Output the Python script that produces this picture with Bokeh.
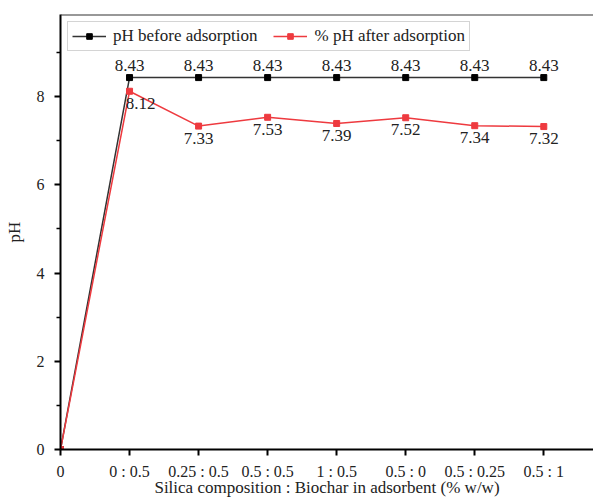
from bokeh.plotting import figure
from bokeh.models import (ColumnDataSource, Range1d, FixedTicker, Legend, LegendItem,
                          Span, LabelSet)
from bokeh.core.properties import value
from bokeh.embed import file_html
from bokeh.resources import INLINE

# Adsorbent compositions (silica : biochar, % w/w) and measured pH values
categories = ["0", "0 : 0.5", "0.25 : 0.5", "0.5 : 0.5", "1 : 0.5",
              "0.5 : 0", "0.5 : 0.25", "0.5 : 1"]
ph_before = [0, 8.43, 8.43, 8.43, 8.43, 8.43, 8.43, 8.43]
ph_after = [0, 8.12, 7.33, 7.53, 7.39, 7.52, 7.34, 7.32]
y_ticks = [0, 2, 4, 6, 8]

FONT = "Liberation Serif"
TEXT = "#222222"
RED = "#ee3a3f"
Y_TOP = 9.86

xs = list(range(len(categories)))


def fmt(v):
    return "0" if v == 0 else f"{v:.2f}"


# value labels for the non-zero compositions (the origin is labelled by the axis)
src = ColumnDataSource(dict(
    x=xs[1:],
    before=ph_before[1:],
    after=ph_after[1:],
    before_lbl=[fmt(v) for v in ph_before[1:]],
    after_lbl=[fmt(v) for v in ph_after[1:]],
    after_dx=[11 if i == 1 else 0 for i in xs[1:]],
))
full = ColumnDataSource(dict(x=xs, before=ph_before, after=ph_after))

p = figure(width=593, height=500, output_backend="svg", toolbar_location=None,
           x_range=Range1d(0, 7.72), y_range=Range1d(0, Y_TOP),
           min_border_left=60, min_border_right=0, min_border_top=14,
           min_border_bottom=51)
p.outline_line_color = None
p.grid.visible = False
p.background_fill_color = "white"

# top frame edge
p.add_layout(Span(location=Y_TOP, dimension="width", line_color="#333333", line_width=2))

# series
l1 = p.line("x", "before", source=full, line_color="#333333", line_width=1.5)
m1 = p.scatter("x", "before", source=full, marker="square", size=6,
               fill_color="black", line_color="black")
l2 = p.line("x", "after", source=full, line_color=RED, line_width=1.5)
m2 = p.scatter("x", "after", source=full, marker="square", size=6,
               fill_color=RED, line_color=RED)

label_style = dict(text_align="center", text_baseline="middle",
                   text_font=value(FONT), text_font_size=value("17px"),
                   text_color=value(TEXT))
p.add_layout(LabelSet(x="x", y="before", text="before_lbl", source=src,
                      y_offset=12, **label_style))
p.add_layout(LabelSet(x="x", y="after", text="after_lbl", source=src,
                      x_offset="after_dx", y_offset=-12, **label_style))

# axes
for ax in (p.xaxis[0], p.yaxis[0]):
    ax.axis_line_width = 2
    ax.axis_line_color = "black"
    ax.major_tick_line_width = 2
    ax.major_tick_line_color = "black"
    ax.minor_tick_line_width = 1.5
    ax.minor_tick_line_color = "black"
    ax.major_tick_out = 6
    ax.major_tick_in = 0
    ax.minor_tick_out = 4
    ax.minor_tick_in = 0
    ax.major_label_text_font = FONT
    ax.major_label_text_font_size = "16px"
    ax.major_label_text_color = TEXT
    ax.axis_label_text_font = FONT
    ax.axis_label_text_font_size = "17px"
    ax.axis_label_text_font_style = "normal"
    ax.axis_label_text_color = TEXT

p.xaxis.ticker = FixedTicker(ticks=xs)
p.xaxis.major_label_overrides = {i: c for i, c in zip(xs, categories)}
p.xaxis.minor_tick_line_color = None
p.xaxis.major_label_standoff = 7
p.xaxis.axis_label = "Silica composition : Biochar in adsorbent (% w/w)"
p.xaxis.axis_label_standoff = -5

p.yaxis.ticker = FixedTicker(ticks=y_ticks, minor_ticks=[1, 3, 5, 7, 9])
p.yaxis.axis_label = "pH"
p.yaxis.major_label_standoff = 10
p.yaxis.axis_label_standoff = 10

legend = Legend(items=[LegendItem(label="pH before adsorption", renderers=[l1, m1]),
                       LegendItem(label="% pH after adsorption", renderers=[l2, m2])],
                orientation="horizontal", location="top_left",
                border_line_color="#aaaaaa", border_line_width=1,
                label_text_font=FONT, label_text_font_size="17px",
                label_text_color=TEXT, glyph_width=34, glyph_height=14,
                label_standoff=7, spacing=16, padding=4, margin=7,
                label_height=14)
p.add_layout(legend)

open("out.html", "w").write(file_html(p, INLINE))
